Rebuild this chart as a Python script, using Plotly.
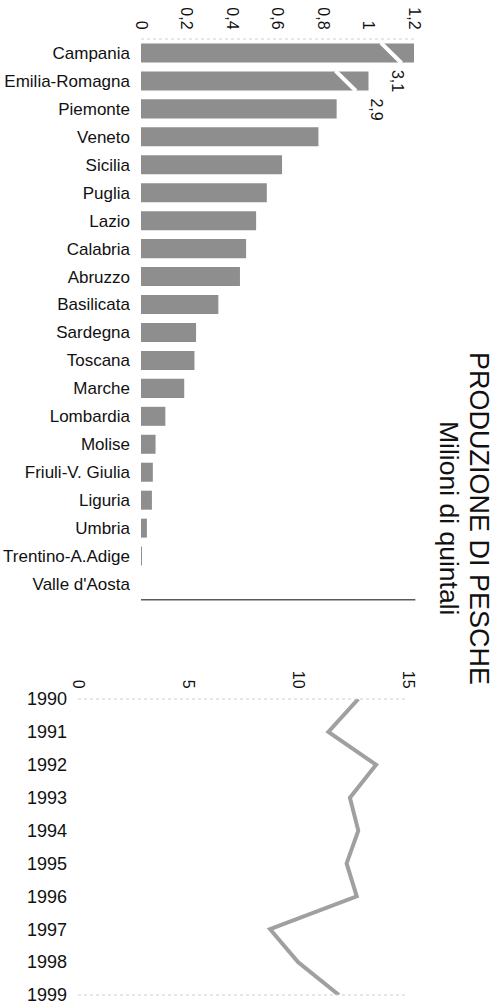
import plotly.graph_objects as go

# ---- data ----
regions = ["Campania", "Emilia-Romagna", "Piemonte", "Veneto", "Sicilia", "Puglia",
           "Lazio", "Calabria", "Abruzzo", "Basilicata", "Sardegna", "Toscana",
           "Marche", "Lombardia", "Molise", "Friuli-V. Giulia", "Liguria", "Umbria",
           "Trentino-A.Adige", "Valle d'Aosta"]
production = [3.1, 2.9, 0.86, 0.78, 0.62, 0.553, 0.506, 0.462, 0.435, 0.34,
              0.242, 0.235, 0.19, 0.107, 0.064, 0.052, 0.048, 0.026, 0.003, 0.0]
# broken bars: the length they are drawn with (axis tops out at 1.2)
broken_drawn = {"Campania": 1.2, "Emilia-Romagna": 1.0}
label_shift = {"Campania": -17, "Emilia-Romagna": 8}

x_ticks = [0, 0.2, 0.4, 0.6, 0.8, 1.0, 1.2]
x_ticktext = ["0", "0,2", "0,4", "0,6", "0,8", "1", "1,2"]

years = [1990, 1991, 1992, 1993, 1994, 1995, 1996, 1997, 1998, 1999]
national = [12.74, 11.38, 13.55, 12.36, 12.74, 12.21, 12.67, 8.73, 10.0, 11.86]
x2_ticks = [0, 5, 10, 15]

# ---- derived ----
idx = list(range(len(regions)))
drawn = [broken_drawn.get(r, v) for r, v in zip(regions, production)]

FONT = "Liberation Sans, Arial, Helvetica, sans-serif"
BAR = "#8e8e8e"
TXT = "#111111"
W, H = 501, 1006

fig = go.Figure()

fig.add_trace(go.Bar(
    x=drawn, y=idx, orientation="h", width=0.68,
    marker=dict(color=BAR, line=dict(width=0)),
    customdata=production, hovertemplate="%{customdata}<extra></extra>",
    xaxis="x", yaxis="y", showlegend=False))

# break stripes on the broken bars
bx, by = [], []
for r, i in zip(regions, idx):
    if r in broken_drawn:
        c = broken_drawn[r] - 0.1
        bx += [c - 0.045, c + 0.045, None]
        by += [i - 0.36, i + 0.36, None]
fig.add_trace(go.Scatter(x=bx, y=by, mode="lines",
                         line=dict(color="white", width=4),
                         hoverinfo="skip", showlegend=False,
                         xaxis="x", yaxis="y"))

fig.add_trace(go.Scatter(
    x=national, y=years, mode="lines",
    line=dict(color="#a0a0a0", width=4),
    xaxis="x2", yaxis="y2", showlegend=False))

annotations = []
for r, i, v in zip(regions, idx, production):
    if r in broken_drawn:
        annotations.append(dict(
            x=broken_drawn[r], y=i + 1, xref="x", yref="y",
            xanchor="center", yanchor="middle",
            text=f"{v:.1f}".replace(".", ","), showarrow=False, textangle=90,
            xshift=label_shift[r],
            font=dict(family=FONT, size=16, color=TXT)))

annotations += [
    dict(x=479 / W, y=1 - 518 / H, xref="paper", yref="paper",
         xanchor="center", yanchor="middle",
         text="PRODUZIONE DI PESCHE", showarrow=False, textangle=90,
         font=dict(family=FONT, size=27, color=TXT)),
    dict(x=449 / W, y=1 - 518 / H, xref="paper", yref="paper",
         xanchor="center", yanchor="middle",
         text="Milioni di quintali", showarrow=False, textangle=90,
         font=dict(family=FONT, size=26.5, color=TXT)),
]

shapes = [
    # top bar chart: faint dotted top line, solid bottom line
    dict(type="line", xref="x domain", yref="y domain", x0=0, x1=1, y0=1, y1=1,
         line=dict(color="#d0d0d0", width=1, dash="dot")),
    dict(type="line", xref="x domain", yref="y domain", x0=0, x1=1.005, y0=-0.003, y1=-0.003,
         line=dict(color="#5a5a5a", width=1.5)),
    # line chart: dotted frame top/bottom
    dict(type="line", xref="x2 domain", yref="y2 domain", x0=0, x1=1, y0=1, y1=1,
         line=dict(color="#cfcfcf", width=1, dash="dot")),
    dict(type="line", xref="x2 domain", yref="y2 domain", x0=0, x1=1, y0=0, y1=0,
         line=dict(color="#cfcfcf", width=1, dash="dot")),
]

common = dict(showgrid=False, zeroline=False, showline=False, fixedrange=True,
              automargin=False, ticks="")

fig.update_layout(
    width=W, height=H,
    margin=dict(l=0, r=0, t=0, b=0, autoexpand=False),
    paper_bgcolor="white", plot_bgcolor="white",
    font=dict(family=FONT, color=TXT),
    xaxis=dict(domain=[141 / W, 414 / W], range=[0, 1.2], side="top", anchor="y",
               tickvals=x_ticks, ticktext=x_ticktext, tickangle=90,
               tickfont=dict(size=16, color=TXT), ticklabelstandoff=6, **common),
    yaxis=dict(domain=[1 - 598 / H, 1 - 39 / H], range=[19.5, -0.5], anchor="x",
               tickvals=idx, ticktext=regions,
               tickfont=dict(size=17, color=TXT), ticklabelstandoff=10, **common),
    xaxis2=dict(domain=[78 / W, 408 / W], range=[0, 15], side="top", anchor="y2",
                tickvals=x2_ticks, tickangle=90,
                tickfont=dict(size=16, color=TXT), ticklabelstandoff=7, **common),
    yaxis2=dict(domain=[1 - 995 / H, 1 - 699 / H], range=[1999, 1990], anchor="x2",
                tickvals=years, tickfont=dict(size=18, color=TXT),
                ticklabelstandoff=10, **common),
    annotations=annotations,
    shapes=shapes,
)

fig.write_html(
    "out.html",
    config={"displayModeBar": False},
    post_script="document.body.style.margin='0';document.body.style.padding='0';"
                "document.body.style.overflow='hidden';",
)
